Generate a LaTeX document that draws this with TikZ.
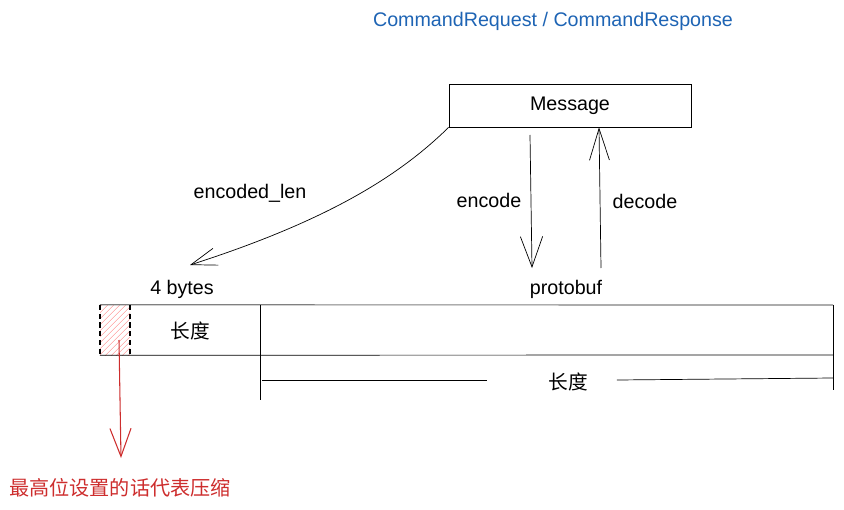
\documentclass[tikz,border=0pt]{standalone}
\usepackage{fontspec}
\setmainfont{Liberation Sans}
\newfontfamily\cjk{Noto Sans CJK SC}
\usetikzlibrary{arrows.meta, positioning, patterns.meta, calc}
\definecolor{titleblue}{RGB}{30,100,180}
\definecolor{notered}{RGB}{205,45,45}

\begin{document}
\begin{tikzpicture}[
    x=0.03cm, y=-0.03cm,
    >={Straight Barb[length=24pt,width=18pt]},
    font=\fontsize{16.8}{19}\selectfont,
    line width=0.6pt,
    msgbox/.style={rectangle, draw, minimum width=7.26cm, minimum height=1.29cm, inner sep=0pt},
    flagbox/.style={rectangle, minimum width=0.9cm, minimum height=1.5cm, inner sep=0pt,
        pattern={Lines[angle=45, distance=4pt, line width=0.4pt]}, pattern color=red!45},
    edge/.style={dash pattern=on 4.5pt off 3pt, line width=1.4pt}
]
    \useasboundingbox (0,0) rectangle (844,510);

    % Nodes ------------------------------------------------------

    \node[text=titleblue] (title) at (553,21) {CommandRequest / CommandResponse};
    \node[msgbox] (msg) at (570,105.5) {Message};
    \node (elen) at (250,193) {encoded\_len};
    \node (enc) at (489,200) {encode};
    \node (dec) at (645,201) {decode};
    \node (bytes) at (182,289) {4 bytes};
    \node (pb) at (566,289) {protobuf};
    \node[flagbox] (flag) at (115,330) {};
    \node (len1) at (190,331) {\cjk 长度};
    \node (len2) at (568,382) {\cjk 长度};
    \node[text=notered, font=\fontsize{17.2}{19}\selectfont] (note) at (120,488) {\cjk 最高位设置的话代表压缩};

    % Coordinates ------------------------------------------------

    \coordinate (encS) at (530,135);
    \coordinate (encE) at (532,268);
    \coordinate (decS) at (601,268);
    \coordinate (lenE) at (190,265);
    \coordinate (barNE) at (833,305);
    \coordinate (barSE) at (833,355);
    \coordinate (divN) at (260,305);
    \coordinate (redE) at (121,458);

    % Bar --------------------------------------------------------

    \draw[gray, line width=1pt] (flag.north west) -- (barNE);
    \draw (flag.south west) -- (barSE);
    \draw[edge] (flag.north west) -- (flag.south west);
    \draw[edge] (flag.north east) -- (flag.south east);
    \draw (barNE) -- ($(barNE)+(0,85)$);
    \draw (divN) -- ($(divN)+(0,95)$);

    % Length line
    \draw ($(divN)+(2,75)$) -- ($(divN)+(227,75)$);
    \draw ($(len2.east)+(25,-2)$) -- ($(barNE)+(0,73)$);

    % Arrows -----------------------------------------------------

    \draw[->, >={Straight Barb[length=22pt,width=15pt]}] (msg.south west)
        .. controls (400,175) and (330,220) .. (lenE);
    \draw[->, >={Straight Barb[length=26pt,width=19pt]}] (encS) -- (encE);
    \draw[->, >={Straight Barb[length=27pt,width=17pt]}] (decS) -- ($(msg.south)+(29,0)$);
    \draw[->, notered, line width=0.9pt] ($(flag.center)+(4,10)$) -- (redE);

\end{tikzpicture}
\end{document}
